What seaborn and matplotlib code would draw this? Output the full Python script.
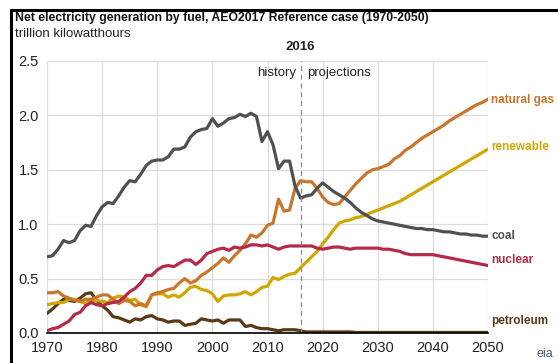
import numpy as np
import pandas as pd
import matplotlib
matplotlib.use("Agg")
import matplotlib.pyplot as plt
import seaborn as sns
from matplotlib import font_manager
from matplotlib.lines import Line2D

years = list(range(1970, 2051))

coal = [0.70, 0.71, 0.77, 0.85, 0.83, 0.85, 0.94, 0.99, 0.98, 1.08,
        1.16, 1.20, 1.19, 1.26, 1.34, 1.40, 1.39, 1.46, 1.54, 1.58,
        1.59, 1.59, 1.62, 1.69, 1.69, 1.71, 1.80, 1.85, 1.87, 1.88,
        1.97, 1.90, 1.93, 1.97, 1.98, 2.01, 1.99, 2.02, 1.99, 1.76,
        1.85, 1.73, 1.51, 1.58, 1.58, 1.35, 1.24, 1.26, 1.27, 1.33,
        1.38, 1.34, 1.30, 1.27, 1.24, 1.20, 1.15, 1.11, 1.08, 1.05,
        1.03, 1.02, 1.01, 1.00, 0.99, 0.98, 0.97, 0.96, 0.96, 0.95,
        0.95, 0.94, 0.93, 0.93, 0.92, 0.91, 0.91, 0.90, 0.90, 0.89, 0.89]

natural_gas = [0.37, 0.37, 0.38, 0.34, 0.32, 0.30, 0.29, 0.31, 0.31, 0.33,
               0.35, 0.35, 0.31, 0.27, 0.30, 0.29, 0.25, 0.27, 0.25, 0.35,
               0.37, 0.38, 0.40, 0.41, 0.46, 0.50, 0.46, 0.48, 0.53, 0.56,
               0.60, 0.64, 0.69, 0.65, 0.71, 0.76, 0.82, 0.90, 0.88, 0.92,
               0.99, 1.01, 1.23, 1.12, 1.13, 1.33, 1.40, 1.39, 1.39, 1.33,
               1.25, 1.20, 1.18, 1.19, 1.25, 1.31, 1.37, 1.42, 1.47, 1.50,
               1.51, 1.53, 1.55, 1.60, 1.63, 1.68, 1.71, 1.75, 1.79, 1.82,
               1.85, 1.88, 1.91, 1.95, 1.98, 2.01, 2.04, 2.07, 2.10, 2.12, 2.15]

renewable = [0.26, 0.27, 0.28, 0.28, 0.31, 0.31, 0.29, 0.27, 0.30, 0.30,
             0.29, 0.28, 0.32, 0.34, 0.33, 0.30, 0.31, 0.26, 0.24, 0.35,
             0.36, 0.36, 0.33, 0.35, 0.33, 0.37, 0.42, 0.43, 0.40, 0.39,
             0.36, 0.29, 0.34, 0.35, 0.35, 0.36, 0.38, 0.35, 0.38, 0.42,
             0.43, 0.51, 0.49, 0.52, 0.54, 0.55, 0.60, 0.65, 0.70, 0.75,
             0.82, 0.88, 0.95, 1.01, 1.03, 1.04, 1.06, 1.07, 1.09, 1.11,
             1.13, 1.15, 1.17, 1.19, 1.21, 1.24, 1.27, 1.30, 1.33, 1.36,
             1.39, 1.42, 1.45, 1.48, 1.51, 1.54, 1.57, 1.60, 1.63, 1.66, 1.69]

nuclear = [0.02, 0.04, 0.05, 0.08, 0.11, 0.17, 0.19, 0.25, 0.28, 0.26,
           0.25, 0.27, 0.28, 0.29, 0.33, 0.38, 0.41, 0.46, 0.53, 0.53,
           0.58, 0.61, 0.62, 0.61, 0.64, 0.67, 0.67, 0.63, 0.67, 0.73,
           0.75, 0.77, 0.78, 0.76, 0.79, 0.78, 0.79, 0.81, 0.81, 0.80,
           0.81, 0.79, 0.77, 0.79, 0.80, 0.80, 0.80, 0.80, 0.80, 0.78,
           0.77, 0.78, 0.79, 0.79, 0.78, 0.77, 0.78, 0.78, 0.78, 0.78,
           0.78, 0.77, 0.77, 0.76, 0.75, 0.73, 0.72, 0.72, 0.72, 0.72,
           0.72, 0.71, 0.70, 0.69, 0.68, 0.67, 0.66, 0.65, 0.64, 0.63, 0.62]

petroleum = [0.18, 0.22, 0.27, 0.31, 0.30, 0.29, 0.32, 0.36, 0.37, 0.30,
             0.25, 0.21, 0.15, 0.14, 0.12, 0.10, 0.13, 0.12, 0.15, 0.16,
             0.13, 0.12, 0.10, 0.11, 0.11, 0.07, 0.08, 0.09, 0.13, 0.12,
             0.11, 0.12, 0.09, 0.12, 0.12, 0.12, 0.06, 0.07, 0.05, 0.04,
             0.04, 0.03, 0.02, 0.03, 0.03, 0.03, 0.02, 0.01, 0.01, 0.01,
             0.01, 0.01, 0.01, 0.01, 0.01, 0.01, 0.005, 0.005, 0.005, 0.005,
             0.005, 0.005, 0.005, 0.005, 0.005, 0.005, 0.005, 0.005, 0.005, 0.005,
             0.005, 0.005, 0.005, 0.005, 0.005, 0.005, 0.005, 0.005, 0.005, 0.005, 0.005]

fuels = ["natural gas", "renewable", "coal", "nuclear", "petroleum"]
colors = {"coal": "#505050", "natural gas": "#c9762c", "renewable": "#d2a600",
          "nuclear": "#b42a48", "petroleum": "#5a3a16"}
label_y = {"natural gas": 2.14, "renewable": 1.71, "coal": 0.89,
           "nuclear": 0.67, "petroleum": 0.11}

df = pd.DataFrame({"year": years, "coal": coal, "natural gas": natural_gas,
                   "renewable": renewable, "nuclear": nuclear, "petroleum": petroleum})
long = df.melt(id_vars="year", var_name="fuel", value_name="value")

sns.set_theme(style="white")
avail = {f.name for f in font_manager.fontManager.ttflist}
fam = "Liberation Sans Narrow" if "Liberation Sans Narrow" in avail else "Liberation Sans"
plt.rcParams["font.family"] = [fam, "DejaVu Sans"]

fig = plt.figure(figsize=(5.58, 3.63), dpi=100)
ax = fig.add_axes([47/558, 1 - 333/363, (488-47)/558, (333-61)/363])

sns.lineplot(data=long, x="year", y="value", hue="fuel",
             hue_order=["petroleum", "renewable", "natural gas", "nuclear", "coal"],
             palette=colors, linewidth=2.3, legend=False, ax=ax)

ax.set_xlim(1970, 2050)
ax.set_ylim(0, 2.5)
ax.set_xticks(range(1970, 2051, 10))
ax.set_yticks([0, 0.5, 1.0, 1.5, 2.0, 2.5])
ax.set_yticklabels(["0.0", "0.5", "1.0", "1.5", "2.0", "2.5"])
ax.grid(True, color="#dcdcdc", linewidth=0.9)
ax.set_axisbelow(True)
for s in ["top", "right", "left"]:
    ax.spines[s].set_visible(False)
ax.spines["bottom"].set_color("black")
ax.spines["bottom"].set_linewidth(1.2)
ax.tick_params(axis="both", labelsize=10.5, colors="#222222", length=0, pad=6)
ax.tick_params(axis="x", pad=6)
ax.set_xlabel("")
ax.set_ylabel("")

ax.axvline(2016, color="#888888", linestyle=(0, (4, 3)), linewidth=0.9)
ax.text(2016, 2.57, "2016", ha="center", va="bottom", fontsize=9.5, fontweight="bold", color="#222222")
ax.text(2015.2, 2.39, "history", ha="right", va="center", fontsize=9.5, color="#222222")
ax.text(2017.2, 2.39, "projections", ha="left", va="center", fontsize=9.5, color="#222222")

for f in fuels:
    ax.text(2050.6, label_y[f], f, ha="left", va="center", fontsize=8.5, fontweight="bold",
            color=colors[f], clip_on=False)

fig.text(15/558, 1 - 18/363, "Net electricity generation by fuel, AEO2017 Reference case (1970-2050)",
         ha="left", va="center", fontsize=8.8, fontweight="bold", color="#111111")
fig.text(15/558, 1 - 34/363, "trillion kilowatthours", ha="left", va="center", fontsize=9.5, color="#222222")
fig.text(545/558, 1 - 354/363, "eia", ha="center", va="center", fontsize=9, color="#4a5a70")

fig.add_artist(Line2D([11/558, 1.0], [1 - 10/363, 1 - 10/363], color="black", linewidth=2.2,
                      transform=fig.transFigure))
fig.add_artist(Line2D([11/558, 11/558], [0, 1 - 10/363], color="black", linewidth=2.2,
                      transform=fig.transFigure))

fig.savefig("out.png", dpi=100)
